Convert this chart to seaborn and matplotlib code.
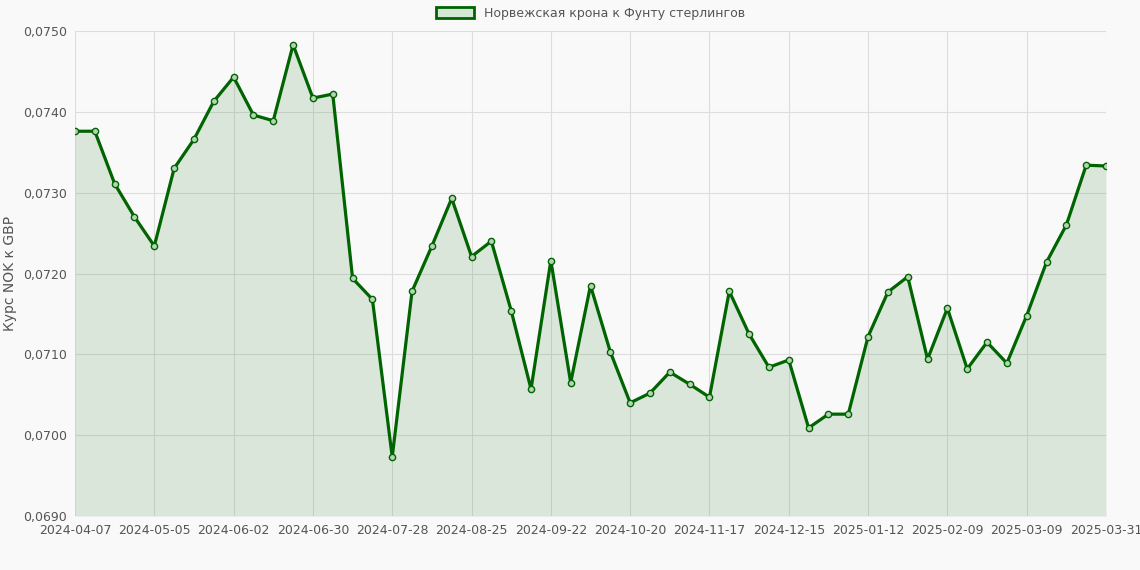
import matplotlib
matplotlib.use("Agg")
import matplotlib.pyplot as plt
import seaborn as sns
import pandas as pd
import numpy as np

# weekly dates, the last point is 2025-03-31
dates = [d.strftime("%Y-%m-%d") for d in pd.date_range("2024-04-07", periods=52, freq="7D")]
dates.append("2025-03-31")

rates = [0.07376, 0.07376, 0.07311, 0.07270, 0.07234, 0.07330, 0.07366, 0.07413,
         0.07443, 0.07396, 0.07389, 0.07483, 0.07417, 0.07422, 0.07194, 0.07168,
         0.06973, 0.07178, 0.07234, 0.07293, 0.07221, 0.07240, 0.07154, 0.07057,
         0.07216, 0.07065, 0.07185, 0.07103, 0.07040, 0.07052, 0.07078, 0.07063,
         0.07047, 0.07178, 0.07125, 0.07084, 0.07093, 0.07009, 0.07026, 0.07026,
         0.07122, 0.07177, 0.07196, 0.07094, 0.07157, 0.07082, 0.07115, 0.07089,
         0.07148, 0.07214, 0.07260, 0.07334, 0.07333]

df = pd.DataFrame({"idx": np.arange(len(dates)), "date": dates, "rate": rates})

sns.set_theme(style="whitegrid")
plt.rcParams["font.family"] = ["DejaVu Sans"]

fig = plt.figure(figsize=(11.4, 5.7), dpi=100, facecolor="#f9f9f9")
ax = fig.add_axes([75 / 1140, 1 - 516 / 570, (1106 - 75) / 1140, (516 - 31) / 570])
ax.set_facecolor("#f9f9f9")

green = "#006400"
ax.fill_between(df["idx"], df["rate"], 0.069, color=green, alpha=0.12, linewidth=0)
sns.lineplot(data=df, x="idx", y="rate", ax=ax, color=green, linewidth=2.3,
             marker="o", markersize=4.5, markerfacecolor="#b7d3b7",
             markeredgecolor=green, markeredgewidth=1.0, legend=False)

ax.set_xlim(0, len(dates) - 1)
ax.set_ylim(0.069, 0.075)
ticks = sorted(set(list(range(0, len(dates) - 1, 4)) + [len(dates) - 1]))
ax.set_xticks(ticks)
ax.set_xticklabels([dates[t] for t in ticks], fontsize=9, color="#555555")
yt = np.arange(0.069, 0.07501, 0.001)
ax.set_yticks(yt)
ax.set_yticklabels([f"{v:.4f}".replace(".", ",") for v in yt], fontsize=9, color="#555555")
ax.set_xlabel("")
ax.set_ylabel("Курс NOK к GBP", fontsize=10, color="#555555")
ax.grid(True, color="#dddddd", linewidth=0.8)
for s in ax.spines.values():
    s.set_visible(False)
ax.tick_params(length=0, pad=6)

handle = plt.Rectangle((0, 0), 1, 1, facecolor="#d5e6d5", edgecolor=green, linewidth=2)
ax.legend([handle], ["Норвежская крона к Фунту стерлингов"], loc="lower center",
          bbox_to_anchor=(0.5, 1.0), frameon=False, fontsize=9, labelcolor="#555555",
          handlelength=3, handleheight=1)

fig.savefig("out.png", dpi=100, facecolor=fig.get_facecolor())
